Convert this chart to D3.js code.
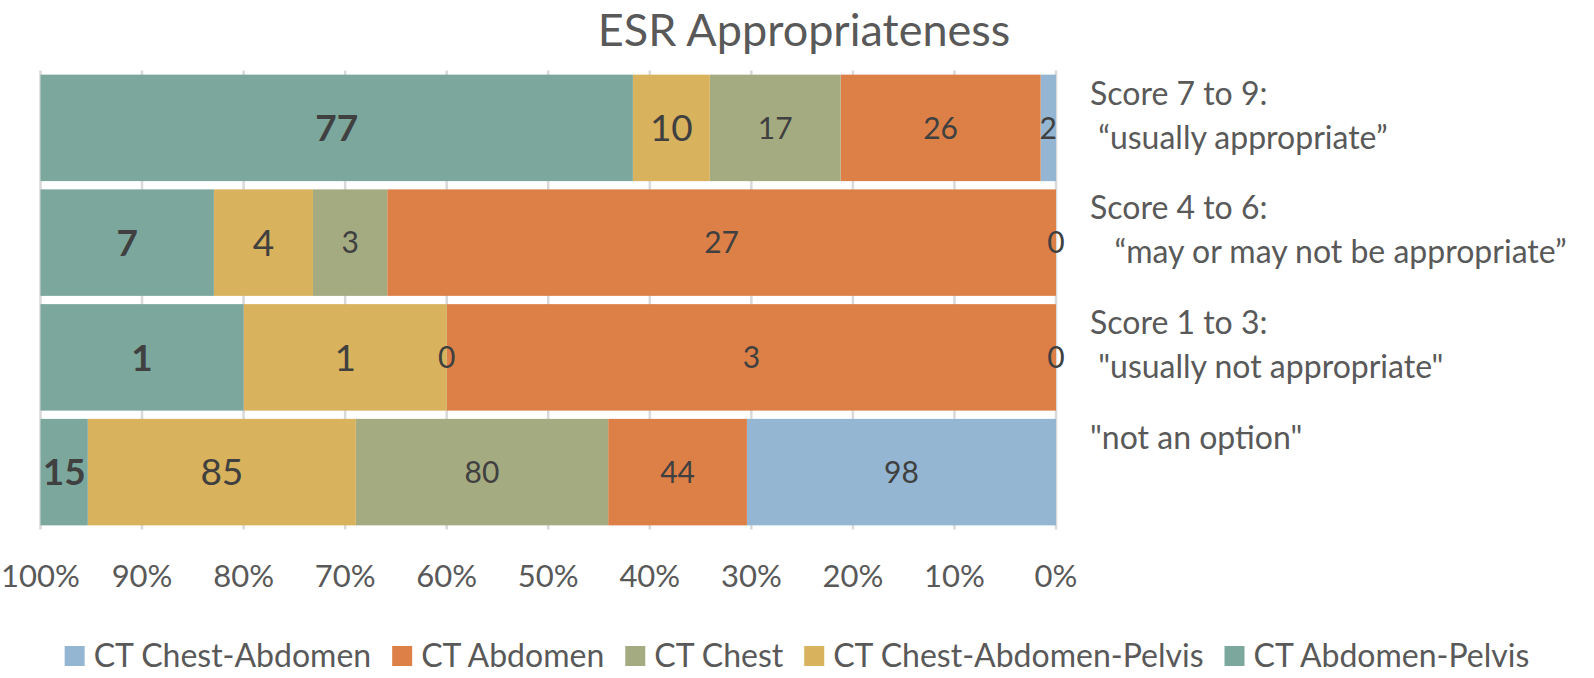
<!DOCTYPE html>
<html>
<head>
<meta charset="utf-8">
<script src="https://cdn.jsdelivr.net/npm/d3@7/dist/d3.min.js"></script>
<style>
  html, body { margin: 0; padding: 0; background: #fff; }
  svg { display: block; font-family: Lato, "Open Sans", sans-serif; }
  text { white-space: pre; }
</style>
</head>
<body>
<svg id="chart" width="1594" height="678"></svg>
<script>
// ---- data ----
const categories = ["Score 7 to 9", "Score 4 to 6", "Score 1 to 3", "not an option"];
const categoryLabels = [
  ["Score 7 to 9:", " \u201Cusually appropriate\u201D"],
  ["Score 4 to 6:", "   \u201Cmay or may not be appropriate\u201D"],
  ["Score 1 to 3:", " \"usually not appropriate\""],
  ["\"not an option\""]
];
const seriesNames = ["CT Chest-Abdomen", "CT Abdomen", "CT Chest", "CT Chest-Abdomen-Pelvis", "CT Abdomen-Pelvis"];
const ctChestAbdomen = [2, 0, 0, 98];
const ctAbdomen = [26, 27, 3, 44];
const ctChest = [17, 3, 0, 80];
const ctChestAbdomenPelvis = [10, 4, 1, 85];
const ctAbdomenPelvis = [77, 7, 1, 15];
const tickValues = [1, 0.9, 0.8, 0.7, 0.6, 0.5, 0.4, 0.3, 0.2, 0.1, 0];
const title = "ESR Appropriateness";

// ---- styles ----
const colors = ["#94B6D2", "#DD8047", "#A5AB81", "#D8B25C", "#7BA79D"];
const labelStyle = [
  { size: 30, weight: 400 },
  { size: 30, weight: 400 },
  { size: 30, weight: 400 },
  { size: 37, weight: 400 },
  { size: 37, weight: 700 }
];

const seriesValues = [ctChestAbdomen, ctAbdomen, ctChest, ctChestAbdomenPelvis, ctAbdomenPelvis];
const rows = categories.map((c, i) => {
  const r = { category: c };
  seriesNames.forEach((s, j) => r[s] = seriesValues[j][i]);
  return r;
});

const svg = d3.select("#chart");
const x = d3.scaleLinear().domain([0, 1]).range([1056, 40.5]);
const y = d3.scaleBand().domain(categories).range([70.5, 529.5]).paddingInner(0.072).paddingOuter(0.036);

const stacked = d3.stack().keys(seriesNames).offset(d3.stackOffsetExpand)(rows);

// gridlines
svg.append("g").selectAll("line").data(tickValues).join("line")
  .attr("x1", d => x(d)).attr("x2", d => x(d))
  .attr("y1", 70.5).attr("y2", 529.5)
  .attr("stroke", "#D9D9D9").attr("stroke-width", 2.5);

// bars
const layers = svg.append("g").selectAll("g").data(stacked).join("g")
  .attr("fill", (d, i) => colors[i]);
layers.selectAll("rect").data(d => d.map(v => ({ v, cat: v.data.category }))).join("rect")
  .attr("x", d => x(d.v[1]))
  .attr("width", d => x(d.v[0]) - x(d.v[1]))
  .attr("y", d => y(d.cat))
  .attr("height", y.bandwidth());

// data labels
const lbl = svg.append("g").selectAll("g").data(stacked).join("g");
lbl.each(function(layer, i) {
  d3.select(this).selectAll("text").data(layer).join("text")
    .attr("x", d => x((d[0] + d[1]) / 2))
    .attr("y", d => y(d.data.category) + y.bandwidth() / 2)
    .attr("dy", "0.36em")
    .attr("text-anchor", "middle")
    .attr("fill", "#404040")
    .attr("font-size", labelStyle[i].size)
    .attr("font-weight", labelStyle[i].weight)
    .text(d => d.data[layer.key]);
});

// tick labels
svg.append("g").selectAll("text").data(tickValues).join("text")
  .attr("x", d => x(d)).attr("y", 587)
  .attr("text-anchor", "middle")
  .attr("fill", "#595959").attr("font-size", 31)
  .text(d => d3.format(".0%")(d));

// category labels (right side)
const cat = svg.append("g").selectAll("text").data(categories).join("text")
  .attr("x", 1090)
  .attr("y", d => y(d) + 30)
  .attr("fill", "#595959").attr("font-size", 32);
cat.selectAll("tspan").data((d, i) => categoryLabels[i]).join("tspan")
  .attr("x", 1090)
  .attr("dy", (d, j) => j === 0 ? 0 : 44)
  .text(d => d);

// title
svg.append("text").attr("x", 804).attr("y", 46)
  .attr("text-anchor", "middle").attr("fill", "#595959").attr("font-size", 45)
  .text(title);

// legend
const legend = svg.append("g");
const items = legend.selectAll("g").data(seriesNames).join("g");
items.append("rect").attr("width", 20).attr("height", 20).attr("y", 646).attr("fill", (d, i) => colors[i]);
items.append("text").attr("x", 29).attr("y", 667).attr("fill", "#595959").attr("font-size", 32).text(d => d);
const widths = [];
items.each(function() {
  const w = d3.select(this).select("text").node().getComputedTextLength();
  widths.push(29 + w);
});
const total = d3.sum(widths) + 21 * (widths.length - 1);
let offset = 797 - total / 2;
items.attr("transform", (d, i) => {
  const t = `translate(${offset},0)`;
  offset += widths[i] + 21;
  return t;
});
</script>
</body>
</html>
